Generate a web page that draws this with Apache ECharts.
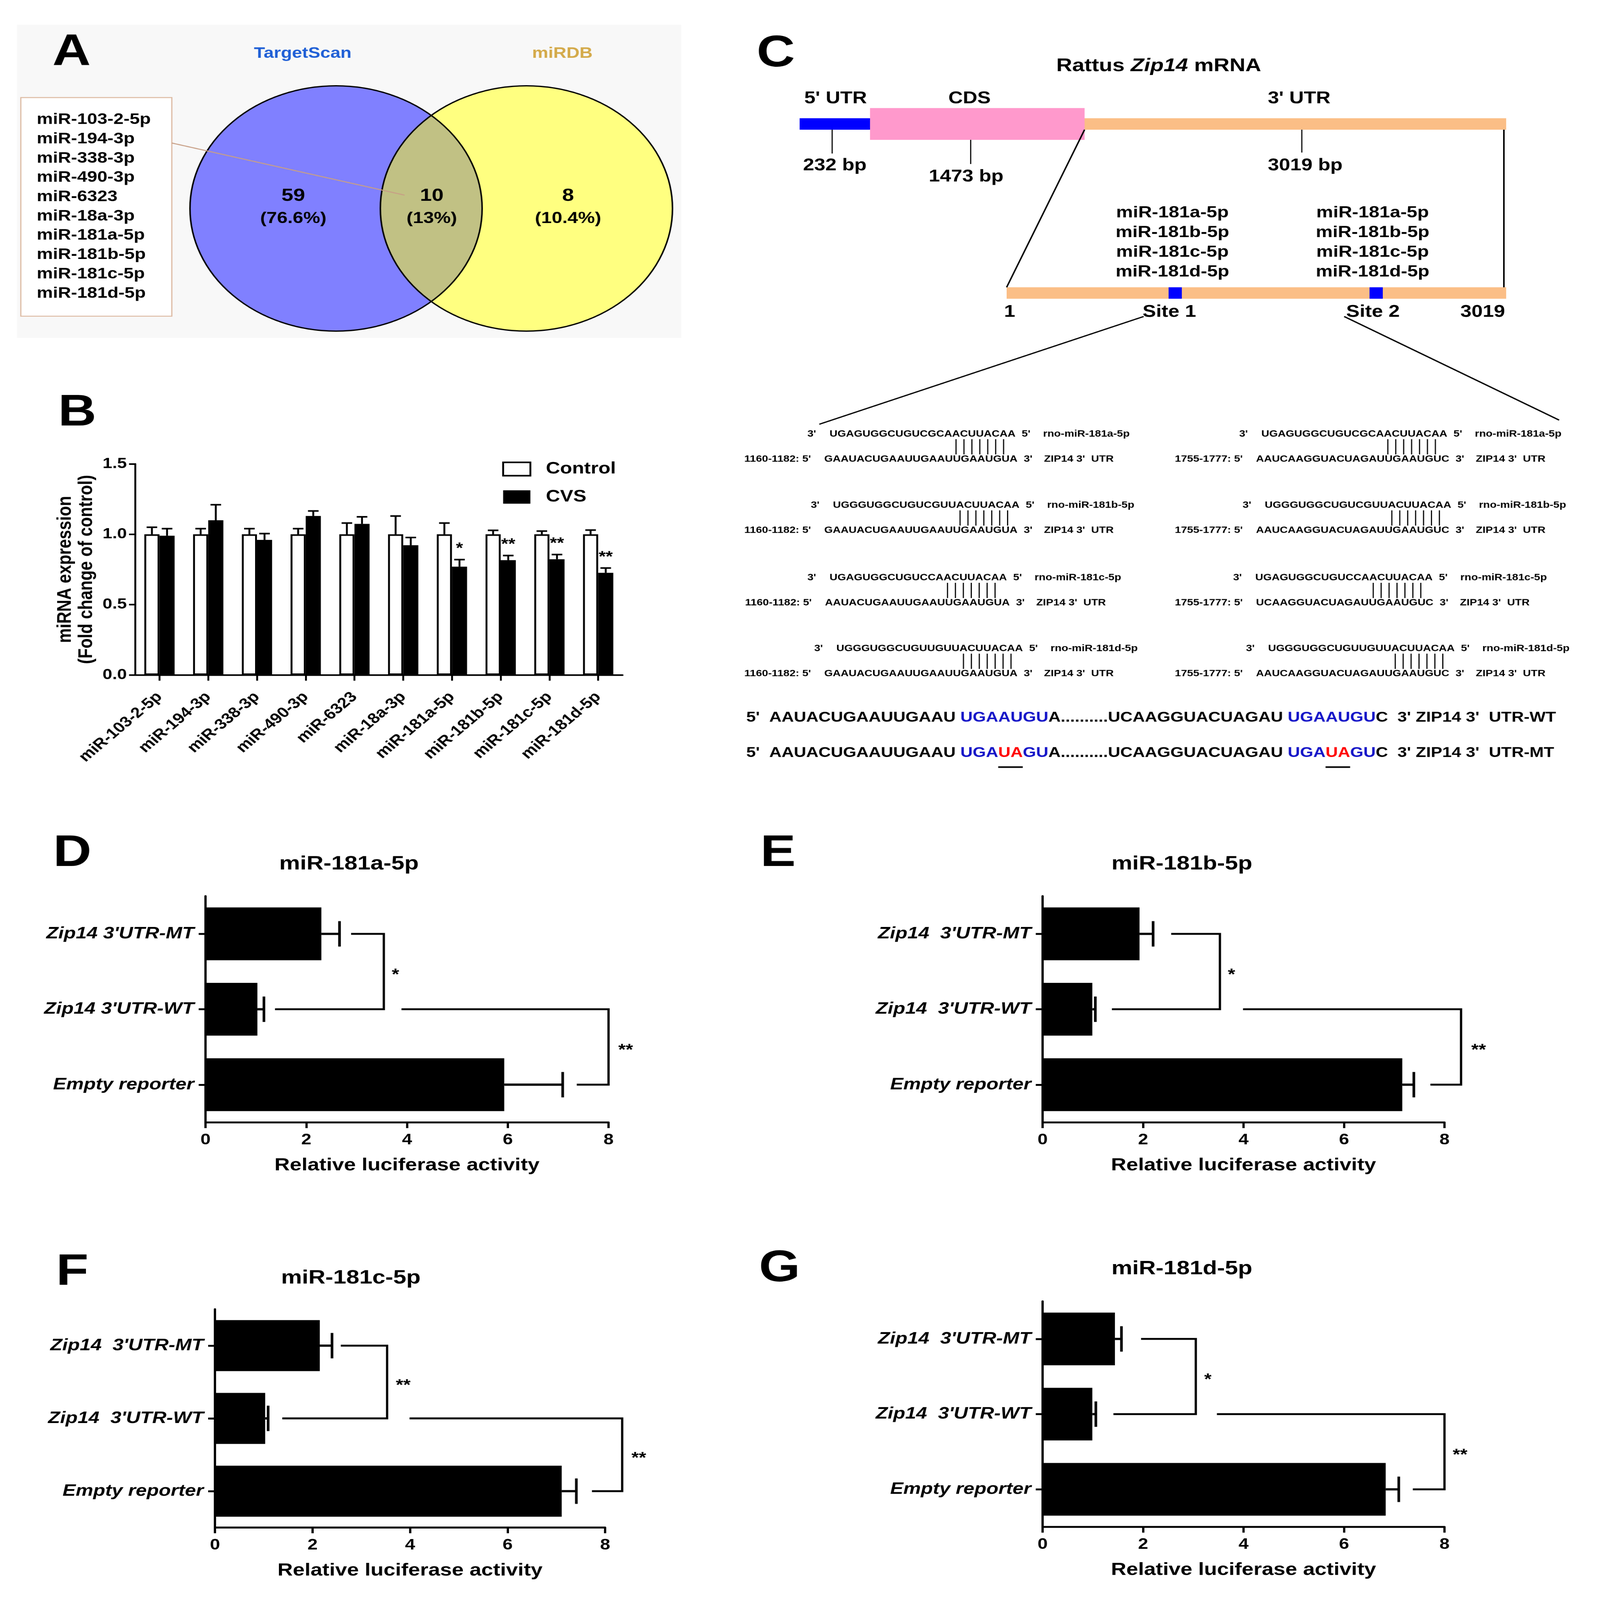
<!DOCTYPE html>
<html><head><meta charset="utf-8">
<script src="https://cdn.jsdelivr.net/npm/echarts@6/dist/echarts.min.js"></script>
<style>html,body{margin:0;padding:0;background:#fff;overflow:hidden}#c{position:absolute;left:0;top:0;width:4228px;height:5035px;transform-origin:0 0}</style>
</head><body><div id="c"></div>
<script>
const FONT = '"Liberation Sans", Arial, sans-serif';

// ---------------- DATA ----------------
// Panel A (Venn)
const vennSets = ['TargetScan', 'miRDB'];
const vennCounts = ['59', '10', '8'];
const vennPercents = ['(76.6%)', '(13%)', '(10.4%)'];
const sharedMiRNAs = ['miR-103-2-5p','miR-194-3p','miR-338-3p','miR-490-3p','miR-6323','miR-18a-3p','miR-181a-5p','miR-181b-5p','miR-181c-5p','miR-181d-5p'];

// Panel B
const expCategories = ['miR-103-2-5p','miR-194-3p','miR-338-3p','miR-490-3p','miR-6323','miR-18a-3p','miR-181a-5p','miR-181b-5p','miR-181c-5p','miR-181d-5p'];
const controlMeans = [1.0, 1.0, 1.0, 1.0, 1.0, 1.0, 1.0, 1.0, 1.0, 1.0];
const controlSEM   = [0.05, 0.04, 0.04, 0.04, 0.08, 0.13, 0.08, 0.028, 0.023, 0.03];
const cvsMeans     = [0.99, 1.10, 0.96, 1.13, 1.074, 0.922, 0.77, 0.816, 0.823, 0.726];
const cvsSEM       = [0.05, 0.11, 0.045, 0.036, 0.05, 0.055, 0.05, 0.033, 0.033, 0.034];
const cvsSig       = ['', '', '', '', '', '', '*', '**', '**', '**'];
const bTicks = [0, 0.5, 1.0, 1.5];

// Panel C
const geneTitle = ['Rattus ', 'Zip14', ' mRNA'];
const geneRegions = ["5' UTR", 'CDS', "3' UTR"];
const geneLengths = ['232 bp', '1473 bp', '3019 bp'];
const utrEnds = ['1', '3019'];
const siteNames = ['Site 1', 'Site 2'];
const mirNames = ['rno-miR-181a-5p','rno-miR-181b-5p','rno-miR-181c-5p','rno-miR-181d-5p'];
const mirShort = ['miR-181a-5p','miR-181b-5p','miR-181c-5p','miR-181d-5p'];
const mirSeqs = ['UGAGUGGCUGUCGCAACUUACAA','UGGGUGGCUGUCGUUACUUACAA','UGAGUGGCUGUCCAACUUACAA','UGGGUGGCUGUUGUUACUUACAA'];
const site1Seqs = ['GAAUACUGAAUUGAAUUGAAUGUA','GAAUACUGAAUUGAAUUGAAUGUA','AAUACUGAAUUGAAUUGAAUGUA','GAAUACUGAAUUGAAUUGAAUGUA'];
const site2Seqs = ['AAUCAAGGUACUAGAUUGAAUGUC','AAUCAAGGUACUAGAUUGAAUGUC','UCAAGGUACUAGAUUGAAUGUC','AAUCAAGGUACUAGAUUGAAUGUC'];
const siteRanges = ['1160-1182', '1755-1777'];
const wtSegments = [["5'  AAUACUGAAUUGAAU ", 'k'], ['UGAAUGU', 'b'], ['A..........UCAAGGUACUAGAU ', 'k'], ['UGAAUGU', 'b'], ["C  3' ZIP14 3'  UTR-WT", 'k']];
const mtSegments = [["5'  AAUACUGAAUUGAAU ", 'k'], ['UGA', 'b'], ['UA', 'r'], ['GU', 'b'], ['A..........UCAAGGUACUAGAU ', 'k'], ['UGA', 'b'], ['UA', 'r'], ['GU', 'b'], ["C  3' ZIP14 3'  UTR-MT", 'k']];

// Panels D-G (luciferase)
const lucTitles = ['miR-181a-5p', 'miR-181b-5p', 'miR-181c-5p', 'miR-181d-5p'];
const lucCatsD = ['Empty reporter', "Zip14 3'UTR-WT", "Zip14 3'UTR-MT"];
const lucCatsEFG = ['Empty reporter', "Zip14  3'UTR-WT", "Zip14  3'UTR-MT"];
const lucMeansD = [5.93, 1.03, 2.30];
const lucErrD   = [1.16, 0.13, 0.36];
const lucMeansE = [7.16, 0.99, 1.93];
const lucErrE   = [0.23, 0.06, 0.27];
const lucMeansF = [7.11, 1.03, 2.15];
const lucErrF   = [0.30, 0.06, 0.25];
const lucMeansG = [6.83, 0.99, 1.44];
const lucErrG   = [0.26, 0.07, 0.13];
const lucTicks = [0, 2, 4, 6, 8];
// significance brackets: [fromCat, toCat, xStartFrom, xStartTo, xVertical, xLabel]
const bracketsD = [[2, 1, 2.89, 1.38, 3.54, 3.77], [1, 0, 3.89, 7.37, 8.0, 8.34]];
const bracketsE = [[2, 1, 2.56, 1.38, 3.53, 3.76], [1, 0, 3.99, 7.72, 8.33, 8.68]];
const bracketsF = [[2, 1, 2.58, 1.38, 3.53, 3.86], [1, 0, 3.99, 7.73, 8.35, 8.69]];
const bracketsG = [[2, 1, 1.96, 1.41, 3.05, 3.29], [1, 0, 3.47, 7.37, 8.0, 8.31]];
const sigD = ['*', '**'];
const sigE = ['*', '**'];
const sigF = ['**', '**'];
const sigG = ['*', '**'];

// ---------------- HELPERS ----------------
const mctx = document.createElement('canvas').getContext('2d');
function tw(text, size, weight, style) {
  mctx.font = (style || 'normal') + ' ' + (weight || 'bold') + ' ' + size + 'px "Liberation Sans"';
  return mctx.measureText(text).width;
}
const G = [];
function txt(x, y, text, o) {
  o = o || {};
  const al = o.align || 'center', va = o.va || 'middle';
  const st = {text: text, fill: o.color || '#000', fontSize: o.size || 48, fontWeight: o.weight || 'bold',
      fontStyle: o.style || 'normal', fontFamily: FONT, align: al, verticalAlign: va,
      textAlign: al, textVerticalAlign: va};
  if (o.rich) st.rich = o.rich;
  G.push({type: 'text', x: x, y: y, rotation: o.rotation || 0, z: 100, silent: true, style: st});
}
function line(x1, y1, x2, y2, w, color, z) {
  G.push({type: 'line', z: z || 100, silent: true, shape: {x1: x1, y1: y1, x2: x2, y2: y2}, style: {stroke: color || '#000', lineWidth: w || 4}});
}
function rect(x, y, w, h, fill, stroke, lw, z) {
  const st = {fill: fill};
  if (stroke) { st.stroke = stroke; st.lineWidth = lw || 1; }
  G.push({type: 'rect', z: z || 90, silent: true, shape: {x: x, y: y, width: w, height: h}, style: st});
}

[['A', 189, 166], ['B', 204, 1300], ['C', 2050, 170], ['D', 191, 2686], ['E', 2056, 2686], ['F', 191, 4004], ['G', 2060, 3993]]
  .forEach(p => txt(p[1], p[2], p[0], {size: 140}));

// ---------------- PANEL A : Venn ----------------
rect(45, 78, 1755, 985, '#f8f8f8', null, 0, 5);
const vc1 = [888, 656], vc2 = [1391, 656], vr = 386;
G.push({type: 'circle', z: 10, silent: true, shape: {cx: vc1[0], cy: vc1[1], r: vr}, style: {fill: '#8080ff'}});
G.push({type: 'circle', z: 10, silent: true, shape: {cx: vc2[0], cy: vc2[1], r: vr}, style: {fill: '#ffff80'}});
(function () {
  const d = vc2[0] - vc1[0], a = d / 2, h = Math.sqrt(vr * vr - a * a);
  const ang = Math.atan2(h, a);
  const pts = [];
  const N = 80;
  for (let k = 0; k <= N; k++) {
    const t = -ang + 2 * ang * k / N;
    pts.push([vc1[0] + vr * Math.cos(t), vc1[1] + vr * Math.sin(t)]);
  }
  for (let k = 0; k <= N; k++) {
    const t = Math.PI - ang + 2 * ang * k / N;
    pts.push([vc2[0] + vr * Math.cos(t), vc2[1] + vr * Math.sin(t)]);
  }
  G.push({type: 'polygon', z: 11, silent: true, shape: {points: pts}, style: {fill: '#c1c184'}});
})();
G.push({type: 'circle', z: 12, silent: true, shape: {cx: vc1[0], cy: vc1[1], r: vr}, style: {fill: null, stroke: '#000', lineWidth: 4}});
G.push({type: 'circle', z: 12, silent: true, shape: {cx: vc2[0], cy: vc2[1], r: vr}, style: {fill: null, stroke: '#000', lineWidth: 4}});
txt(800, 169, vennSets[0], {size: 48, color: '#1f5fd6'});
txt(1486, 169, vennSets[1], {size: 48, color: '#d4aa4a'});
[775, 1141, 1501].forEach((x, i) => {
  txt(x, 617, vennCounts[i], {size: 56});
  txt(x, 688, vennPercents[i], {size: 50});
});
rect(55, 307, 399, 688, '#fff', '#dcb89f', 3, 20);
sharedMiRNAs.forEach((m, i) => txt(97, 377 + i * 60.7, m, {size: 48, align: 'left'}));
line(454, 450, 1069, 614, 3, '#c89f86', 20);

// ---------------- PANEL C : diagram ----------------
txt(3062, 208, '{n|' + geneTitle[0] + '}{i|' + geneTitle[1] + '}{n|' + geneTitle[2] + '}', {size: 58,
  rich: {n: {fontSize: 58, fontWeight: 'bold', fontFamily: FONT}, i: {fontSize: 58, fontWeight: 'bold', fontStyle: 'italic', fontFamily: FONT}}});
txt(2208, 310, geneRegions[0], {size: 53});
txt(2562, 310, geneRegions[1], {size: 53});
txt(3433, 310, geneRegions[2], {size: 53});
rect(2113, 372, 192, 36, '#0000ff');
rect(2866, 372, 1114, 36, '#fbbe86');
rect(2299, 340, 567, 100, '#ff99cc');
line(2199, 408, 2199, 483, 3);
line(2565, 440, 2565, 516, 3);
line(3440, 408, 3440, 480, 3);
txt(2206, 521, geneLengths[0], {size: 53});
txt(2553, 556, geneLengths[1], {size: 53});
txt(3449, 521, geneLengths[2], {size: 53});
line(2866, 408, 2660, 904, 4);
line(3974, 408, 3974, 904, 4);
rect(2660, 904, 1320, 36, '#fbbe86');
rect(3088, 904, 35, 36, '#0000ff', null, 0, 91);
rect(3619, 904, 35, 36, '#0000ff', null, 0, 91);
txt(2668, 982, utrEnds[0], {size: 53});
txt(3090, 982, siteNames[0], {size: 53});
txt(3628, 982, siteNames[1], {size: 53});
txt(3918, 982, utrEnds[1], {size: 53});
mirShort.forEach((m, i) => {
  txt(3098, 670 + i * 62, m, {size: 50});
  txt(3627, 670 + i * 62, m, {size: 50});
});
line(3022, 996, 2165, 1335, 4);
line(3552, 996, 4120, 1322, 4);

// sequence pairing blocks
const SF = 29;
const blockY = [1366, 1590, 1818, 2041];
const blockMirX = [2192, 2201, 2192, 2210];
const blockTgtX = [2178, 2178, 2180, 2178];
const rightOffMir = [1141, 1141, 1125, 1141];
const rightOffTgt = [1141, 1141, 1139, 1141];
function seqBlock(mx, tx, y, mseq, tseq, name, range) {
  const ty = y + 79;
  txt(mx - 47, y, "3'", {size: SF});
  txt(mx, y, mseq, {size: SF, align: 'left'});
  const mEnd = mx + tw(mseq, SF);
  txt(mEnd + 28, y, "5'", {size: SF});
  txt(mEnd + 73, y, name, {size: SF, align: 'left'});
  txt(tx - 35, ty, range + ": 5'", {size: SF, align: 'right'});
  txt(tx, ty, tseq, {size: SF, align: 'left'});
  const tEnd = tx + tw(tseq, SF);
  txt(tEnd + 28, ty, "3'", {size: SF});
  txt(tEnd + 70, ty, "ZIP14 3'  UTR", {size: SF, align: 'left'});
  const L = mseq.length;
  for (let i = L - 8; i <= L - 2; i++) {
    const cx = mx + tw(mseq.slice(0, i), SF) + tw(mseq[i], SF) / 2;
    line(cx, y + 16, cx, ty - 15, 3);
  }
}
for (let b = 0; b < 4; b++) {
  seqBlock(blockMirX[b], blockTgtX[b], blockY[b], mirSeqs[b], site1Seqs[b], mirNames[b], siteRanges[0]);
  seqBlock(blockMirX[b] + rightOffMir[b], blockTgtX[b] + rightOffTgt[b], blockY[b], mirSeqs[b], site2Seqs[b], mirNames[b], siteRanges[1]);
}
const segColors = {k: '#000', b: '#1515c8', r: '#ff0000'};
function seqRow(x, y, segs, size) {
  let cx = x;
  segs.forEach(s => {
    const w = tw(s[0], size);
    txt(cx, y, s[0], {size: size, color: segColors[s[1]], align: 'left'});
    if (s[1] === 'r') line(cx, y + 44, cx + w, y + 44, 5);
    cx += w;
  });
}
seqRow(1972, 2259, wtSegments, 45);
seqRow(1972, 2370, mtSegments, 45);

// ---------------- TITLES D-G ----------------
txt(922, 2719, lucTitles[0], {size: 62});
txt(3123, 2719, lucTitles[1], {size: 62});
txt(927, 4022, lucTitles[2], {size: 62});
txt(3123, 3993, lucTitles[3], {size: 62});

// ---------------- AXES / SERIES ----------------
const AX = {color: '#000', width: 6};
function lucX(gi) {
  return {type: 'value', gridIndex: gi, min: lucTicks[0], max: lucTicks[lucTicks.length - 1], interval: lucTicks[1] - lucTicks[0],
    name: 'Relative luciferase activity', nameLocation: 'middle', nameGap: 108,
    nameTextStyle: {fontSize: 56, fontWeight: 'bold', fontFamily: FONT, color: '#000'},
    axisLine: {show: true, onZero: false, lineStyle: AX}, axisTick: {show: true, length: 18, lineStyle: AX},
    axisLabel: {fontSize: 48, fontWeight: 'bold', fontFamily: FONT, color: '#000', margin: 32}, splitLine: {show: false}};
}
function lucY(gi, cats) {
  return {type: 'category', gridIndex: gi, data: cats,
    axisLine: {show: true, onZero: false, lineStyle: AX}, axisTick: {show: true, alignWithLabel: true, length: 18, lineStyle: AX},
    axisLabel: {fontSize: 52, fontWeight: 'bold', fontStyle: 'italic', fontFamily: FONT, color: '#000', margin: 30}};
}
function lucSeries(k, means, errs, brackets, sigs) {
  return [
    {type: 'bar', xAxisIndex: k, yAxisIndex: k, data: means, barWidth: '70%', itemStyle: {color: '#000'}, silent: true, z: 2},
    {type: 'custom', xAxisIndex: k, yAxisIndex: k, silent: true, z: 3, data: means.map((m, i) => [m, i, errs[i]]),
      renderItem: function (p, api) {
        const a = api.coord([api.value(0), api.value(1)]);
        const b = api.coord([api.value(0) + api.value(2), api.value(1)]);
        return {type: 'group', children: [
          {type: 'line', shape: {x1: a[0], y1: a[1], x2: b[0], y2: b[1]}, style: {stroke: '#000', lineWidth: 7}},
          {type: 'line', shape: {x1: b[0], y1: b[1] - 40, x2: b[0], y2: b[1] + 40}, style: {stroke: '#000', lineWidth: 7}}]};
      }},
    {type: 'custom', xAxisIndex: k, yAxisIndex: k, silent: true, z: 3, data: brackets,
      renderItem: function (p, api) {
        const r = brackets[p.dataIndex];
        const a = api.coord([r[2], r[0]]), b = api.coord([r[4], r[0]]), c = api.coord([r[4], r[1]]), d = api.coord([r[3], r[1]]);
        const l = api.coord([r[5], r[0]]);
        const my = (b[1] + c[1]) / 2 + 12;
        return {type: 'group', children: [
          {type: 'polyline', shape: {points: [a, b, c, d]}, style: {stroke: '#000', lineWidth: 6, fill: null}},
          {type: 'text', x: l[0], y: my, style: {text: sigs[p.dataIndex], fontSize: 50, fontWeight: 'bold', fontFamily: FONT, fill: '#000',
            align: 'center', verticalAlign: 'middle', textAlign: 'center', textVerticalAlign: 'middle'}}]};
      }}
  ];
}

const BW = 40;
const option = {
  animation: false,
  backgroundColor: '#fff',
  textStyle: {fontFamily: FONT},
  grid: [
    {left: 357, top: 1460, width: 1288, height: 664, outerBoundsMode: 'none'},
    {left: 543, top: 2820, width: 1065, height: 712, outerBoundsMode: 'none'},
    {left: 2755, top: 2820, width: 1062, height: 712, outerBoundsMode: 'none'},
    {left: 568, top: 4120, width: 1031, height: 687, outerBoundsMode: 'none'},
    {left: 2755, top: 4095, width: 1062, height: 710, outerBoundsMode: 'none'}
  ],
  legend: {left: 1322, top: 1445, orient: 'vertical', itemWidth: 72, itemHeight: 42, itemGap: 36, selectedMode: false,
    textStyle: {fontSize: 52, fontWeight: 'bold', fontFamily: FONT, color: '#000', padding: [0, 0, 0, 36]},
    data: [{name: 'Control', icon: 'rect', itemStyle: {color: '#fff', borderColor: '#000', borderWidth: 5}},
           {name: 'CVS', icon: 'rect', itemStyle: {color: '#000', borderColor: '#000', borderWidth: 0}}]},
  xAxis: [
    {type: 'category', gridIndex: 0, data: expCategories,
      axisLine: {show: true, lineStyle: {color: '#000', width: 5}},
      axisTick: {show: true, alignWithLabel: true, length: 18, lineStyle: {color: '#000', width: 5}},
      axisLabel: {interval: 0, rotate: 45, margin: 62, fontSize: 46, fontWeight: 'bold', fontFamily: FONT, color: '#000'}},
    lucX(1), lucX(2), lucX(3), lucX(4)
  ],
  yAxis: [
    {type: 'value', gridIndex: 0, min: bTicks[0], max: bTicks[bTicks.length - 1], interval: bTicks[1] - bTicks[0],
      name: 'miRNA expression\n(Fold change of control)', nameLocation: 'middle', nameGap: 100,
      nameTextStyle: {fontSize: 52, fontWeight: 'bold', fontFamily: FONT, color: '#000', lineHeight: 56},
      axisLine: {show: true, lineStyle: {color: '#000', width: 5}},
      axisTick: {show: true, length: 16, lineStyle: {color: '#000', width: 5}},
      axisLabel: {formatter: v => v.toFixed(1), fontSize: 46, fontWeight: 'bold', fontFamily: FONT, color: '#000', margin: 22},
      splitLine: {show: false}},
    lucY(1, lucCatsD), lucY(2, lucCatsEFG), lucY(3, lucCatsEFG), lucY(4, lucCatsEFG)
  ],
  series: [
    {type: 'bar', name: 'Control', xAxisIndex: 0, yAxisIndex: 0, data: controlMeans, barWidth: BW, barGap: '0%', silent: true,
      itemStyle: {color: '#fff', borderColor: '#000', borderWidth: 5}},
    {type: 'bar', name: 'CVS', xAxisIndex: 0, yAxisIndex: 0, data: cvsMeans, barWidth: BW, barGap: '0%', silent: true,
      itemStyle: {color: '#000'}},
    {type: 'custom', xAxisIndex: 0, yAxisIndex: 0, silent: true, z: 3,
      data: controlMeans.map((m, i) => [i, m, controlSEM[i], -1]).concat(cvsMeans.map((m, i) => [i, m, cvsSEM[i], 1])),
      renderItem: function (p, api) {
        const i = api.value(0), v = api.value(1), e = api.value(2), side = api.value(3);
        const base = api.coord([i, v]), top = api.coord([i, v + e]);
        const x = base[0] + side * BW / 2;
        return {type: 'group', children: [
          {type: 'line', shape: {x1: x, y1: base[1], x2: x, y2: top[1]}, style: {stroke: '#000', lineWidth: 5}},
          {type: 'line', shape: {x1: x - 14, y1: top[1], x2: x + 14, y2: top[1]}, style: {stroke: '#000', lineWidth: 5}}]};
      }},
    {type: 'custom', xAxisIndex: 0, yAxisIndex: 0, silent: true, z: 3,
      data: cvsMeans.map((m, i) => [i, m + cvsSEM[i]]),
      renderItem: function (p, api) {
        const pt = api.coord([api.value(0), api.value(1)]);
        return {type: 'text', x: pt[0] + BW / 2, y: pt[1] - 34, style: {text: cvsSig[p.dataIndex], fontSize: 48, fontWeight: 'bold', fontFamily: FONT, fill: '#000',
          align: 'center', verticalAlign: 'middle', textAlign: 'center', textVerticalAlign: 'middle'}};
      }}
  ].concat(lucSeries(1, lucMeansD, lucErrD, bracketsD, sigD))
   .concat(lucSeries(2, lucMeansE, lucErrE, bracketsE, sigE))
   .concat(lucSeries(3, lucMeansF, lucErrF, bracketsF, sigF))
   .concat(lucSeries(4, lucMeansG, lucErrG, bracketsG, sigG)),
  graphic: {elements: G}
};
const host = document.getElementById('c');
// fit the 4228x5035 design into whatever viewport the page is photographed in
const fitX = (window.innerWidth || 4228) / 4228, fitY = (window.innerHeight || 5035) / 5035;
host.style.transform = 'scale(' + fitX + ',' + fitY + ')';
const chart = echarts.init(host, null, {renderer: 'canvas', width: 4228, height: 5035});
chart.setOption(option);
</script>
</body></html>
